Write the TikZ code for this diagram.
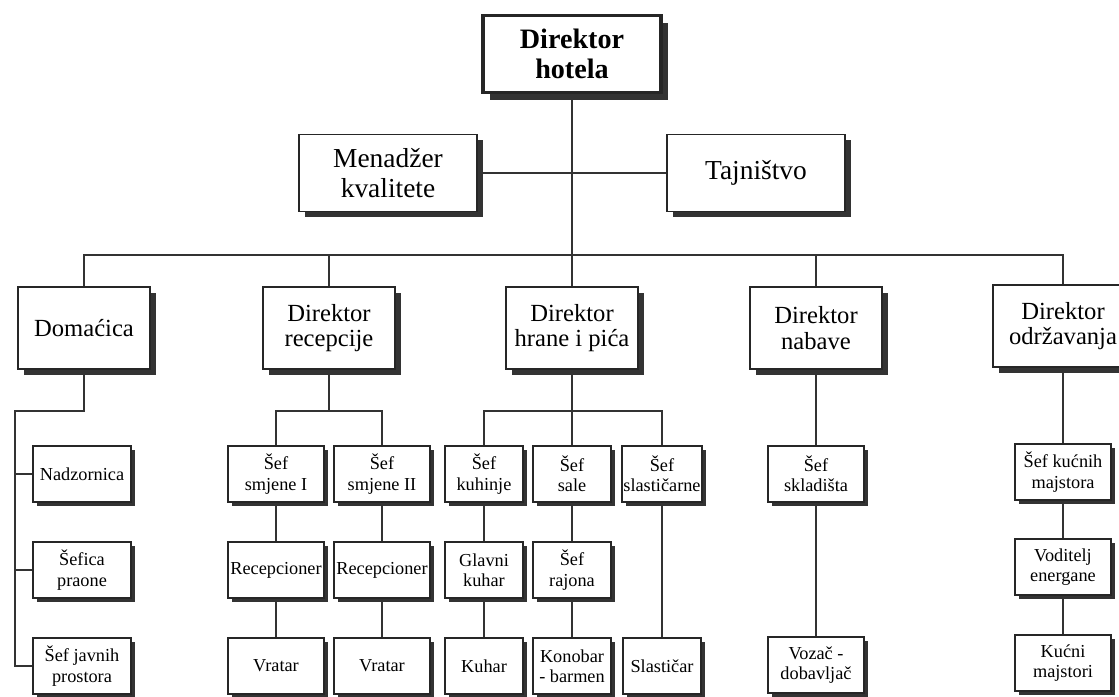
\documentclass[tikz,border=0pt]{standalone}
\usepackage{fontspec}
\setmainfont{Liberation Serif}
\usetikzlibrary{shadows}

\begin{document}
\begin{tikzpicture}[x=0.025cm,y=-0.025cm,
    boxshadow/.style={drop shadow={shadow xshift=#1,shadow yshift=-#1,fill=black!80,opacity=1}},
    box/.style={draw=black!85,line width=1.1pt,fill=white,align=center,inner sep=1pt},
    chief/.style={box,line width=2.4pt,boxshadow=5pt,minimum width=4.45cm,minimum height=1.925cm,
      font=\fontsize{20}{21}\selectfont\bfseries},
    staff/.style={box,boxshadow=4pt,minimum width=4.45cm,minimum height=1.925cm,
      font=\fontsize{19.5}{21}\selectfont},
    dept/.style={box,boxshadow=4pt,minimum width=3.3cm,minimum height=2.05cm,
      font=\fontsize{17.5}{18}\selectfont},
    unit/.style={box,boxshadow=3pt,minimum width=2.4cm,minimum height=1.4cm,
      font=\fontsize{13}{14.5}\selectfont},
    link/.style={draw=black!80,line width=1.1pt}]

    \useasboundingbox (0,0) rectangle (1119,697);

    % Direktor hotela
    \node[chief] (hotel) at (572,54) {Direktor\\hotela};

    % Stab
    \node[staff] (kvaliteta) at (388,173) {Menadžer\\kvalitete};
    \node[staff] (tajnistvo) at (756,173) {Tajništvo};

    % Sektori
    \coordinate (bus) at (572,255);
    \node[dept] (domacica) at (84,328) {Domaćica};
    \node[dept] (recepcija) at (329,328) {Direktor\\recepcije};
    \node[dept] (hrana) at (572,328) {Direktor\\hrane i pića};
    \node[dept] (nabava) at (816,328) {Direktor\\nabave};
    \node[dept,minimum width=3.5cm] (odrzavanje) at (1063,326) {Direktor\\održavanja};

    % Veze uprave
    \draw[link] (hotel) -- (hrana);
    \draw[link] (kvaliteta) -- (tajnistvo);
    \draw[link] (domacica.north) |- (bus) -| (odrzavanje.north);
    \draw[link] (recepcija.north) -- (recepcija.north |- bus);
    \draw[link] (nabava.north) -- (nabava.north |- bus);

    % Domacica
    \coordinate (dom-k) at (15,411);
    \node[unit,minimum width=2.45cm] (nadzornica) at (82,474) {Nadzornica};
    \node[unit,minimum width=2.45cm] (praona) at (82,570) {Šefica\\praone};
    \node[unit,minimum width=2.45cm] (prostori) at (82,666) {Šef javnih\\prostora};
    \draw[link] (domacica.south) |- (dom-k) |- (prostori.west);
    \draw[link] (dom-k |- nadzornica.west) -- (nadzornica.west);
    \draw[link] (dom-k |- praona.west) -- (praona.west);

    % Recepcija
    \coordinate (rec-k) at (329,411);
    \node[unit] (smjena1) at (276,474) {Šef\\smjene I};
    \node[unit] (smjena2) at (382,474) {Šef\\smjene II};
    \node[unit] (recepcioner1) at (276,570) {Recepcioner};
    \node[unit] (recepcioner2) at (382,570) {Recepcioner};
    \node[unit] (vratar1) at (276,666) {Vratar};
    \node[unit] (vratar2) at (382,666) {Vratar};
    \draw[link] (recepcija.south) -- (rec-k);
    \draw[link] (smjena1.north) |- (rec-k) -| (smjena2.north);
    \draw[link] (smjena1) -- (recepcioner1) -- (vratar1);
    \draw[link] (smjena2) -- (recepcioner2) -- (vratar2);

    % Hrana i pice
    \coordinate (hra-k) at (572,411);
    \node[unit,minimum width=1.95cm] (kuhinja) at (484,474) {Šef\\kuhinje};
    \node[unit,minimum width=1.95cm] (sala) at (572,474) {Šef\\sale};
    \node[unit,minimum width=1.95cm] (slasticarna) at (662,474) {Šef\\slastičarne};
    \node[unit,minimum width=1.95cm] (glavni) at (484,570) {Glavni\\kuhar};
    \node[unit,minimum width=1.95cm] (rajon) at (572,570) {Šef\\rajona};
    \node[unit,minimum width=1.95cm] (kuhar) at (484,666) {Kuhar};
    \node[unit,minimum width=1.95cm] (konobar) at (572,666) {Konobar\\- barmen};
    \node[unit,minimum width=1.95cm] (slasticar) at (662,666) {Slastičar};
    \draw[link] (hrana) -- (sala);
    \draw[link] (kuhinja.north) |- (hra-k) -| (slasticarna.north);
    \draw[link] (kuhinja) -- (glavni) -- (kuhar);
    \draw[link] (sala) -- (rajon) -- (konobar);
    \draw[link] (slasticarna) -- (slasticar);

    % Nabava
    \node[unit] (skladiste) at (816,474) {Šef\\skladišta};
    \node[unit] (vozac) at (816,665) {Vozač -\\dobavljač};
    \draw[link] (nabava) -- (skladiste) -- (vozac);

    % Odrzavanje
    \node[unit] (sefmajstora) at (1063,472) {Šef kućnih\\majstora};
    \node[unit] (energana) at (1063,567) {Voditelj\\energane};
    \node[unit] (majstori) at (1063,663) {Kućni\\majstori};
    \draw[link] (odrzavanje) -- (sefmajstora) -- (energana) -- (majstori);
\end{tikzpicture}
\end{document}
